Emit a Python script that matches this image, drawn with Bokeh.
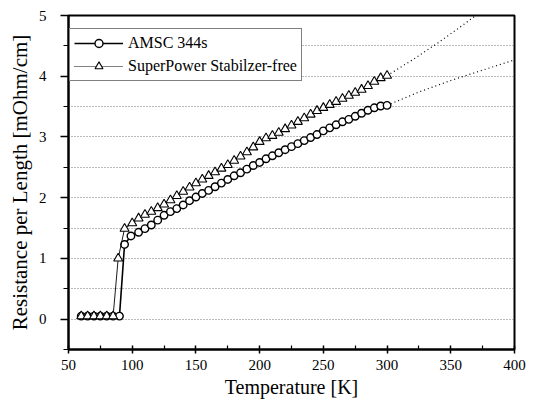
from bokeh.plotting import figure
from bokeh.models import FixedTicker, Range1d, Legend, LegendItem
from bokeh.embed import file_html
from bokeh.resources import INLINE

# ---- data ----
amsc_T = [60, 65, 70, 75, 80, 85, 90, 94, 99,
          105, 110, 115, 120, 125, 130, 135, 140, 145, 150, 155, 160, 165, 170,
          175, 180, 185, 190, 195, 200, 205, 210, 215, 220, 225, 230, 235, 240,
          245, 250, 255, 260, 265, 270, 275, 280, 285, 290, 295, 300]
amsc_R = [0.05, 0.05, 0.05, 0.05, 0.05, 0.05, 0.05, 1.23, 1.37,
          1.43, 1.49, 1.55, 1.63, 1.71, 1.77, 1.82, 1.88, 1.95, 2.01, 2.07, 2.12, 2.18, 2.24,
          2.30, 2.36, 2.41, 2.47, 2.53, 2.58, 2.64, 2.69, 2.74, 2.79, 2.84, 2.89, 2.94, 2.99,
          3.04, 3.10, 3.15, 3.20, 3.25, 3.29, 3.34, 3.39, 3.44, 3.48, 3.51, 3.52]

sp_T = [60, 65, 70, 75, 80, 85, 89, 94,
        100, 105, 110, 115, 120, 125, 130, 135, 140, 145, 150, 155, 160, 165, 170,
        175, 180, 185, 190, 195, 200, 205, 210, 215, 220, 225, 230, 235, 240,
        245, 250, 255, 260, 265, 270, 275, 280, 285, 290, 295, 300]
sp_R = [0.05, 0.05, 0.05, 0.05, 0.05, 0.05, 1.00, 1.49,
        1.58, 1.66, 1.72, 1.77, 1.83, 1.89, 1.96, 2.03, 2.10, 2.17, 2.24, 2.30, 2.36, 2.42, 2.48,
        2.54, 2.61, 2.68, 2.75, 2.83, 2.92, 2.98, 3.02, 3.07, 3.13, 3.19, 3.25, 3.31, 3.37,
        3.43, 3.48, 3.53, 3.58, 3.63, 3.68, 3.73, 3.78, 3.84, 3.91, 3.97, 4.01]

amsc_ext_T = [300, 325, 350, 375, 400]
amsc_ext_R = [3.52, 3.74, 3.93, 4.10, 4.27]
sp_ext_T = [300, 320, 340, 360, 380]
sp_ext_R = [4.01, 4.27, 4.55, 4.85, 5.16]

x_ticks = [50, 100, 150, 200, 250, 300, 350, 400]
x_minor = [75, 125, 175, 225, 275, 325, 375]
y_ticks = [0, 1, 2, 3, 4, 5]
y_minor = [-0.5, 0.5, 1.5, 2.5, 3.5, 4.5]
grid_lines = [0, 0.5, 1, 1.5, 2, 2.5, 3, 3.5, 4, 4.5]

FONT = "Liberation Serif"

p = figure(width=534, height=403, output_backend="svg", toolbar_location=None,
           x_range=Range1d(50, 400), y_range=Range1d(-0.5, 5),
           min_border_left=68, min_border_right=20, min_border_top=15,
           min_border_bottom=54)

p.outline_line_color = "black"
p.outline_line_width = 2
p.background_fill_color = "white"
p.border_fill_color = "white"

p.xgrid.visible = False
p.ygrid.ticker = FixedTicker(ticks=grid_lines)
p.ygrid.grid_line_color = "#777777"
p.ygrid.grid_line_dash = "1 2"
p.ygrid.grid_line_width = 1

p.xaxis.ticker = FixedTicker(ticks=x_ticks, minor_ticks=x_minor)
p.yaxis.ticker = FixedTicker(ticks=y_ticks, minor_ticks=y_minor)

for ax in (p.xaxis, p.yaxis):
    ax.axis_line_width = 2
    ax.axis_line_color = "black"
    ax.major_tick_line_color = "black"
    ax.minor_tick_line_color = "black"
    ax.major_tick_line_width = 1.5
    ax.minor_tick_line_width = 1.2
    ax.major_label_text_font = FONT
    ax.major_label_text_font_size = "15px"
    ax.major_label_text_color = "black"
    ax.axis_label_text_font = FONT
    ax.axis_label_text_font_style = "normal"
    ax.axis_label_text_color = "black"

p.xaxis.axis_label_text_font_size = "20px"
p.yaxis.axis_label_text_font_size = "21px"

p.xaxis.major_tick_in = 4
p.xaxis.major_tick_out = 4
p.xaxis.minor_tick_in = 4
p.xaxis.minor_tick_out = 0
p.yaxis.major_tick_in = 0
p.yaxis.major_tick_out = 8
p.yaxis.minor_tick_in = 0
p.yaxis.minor_tick_out = 5
p.xaxis.major_label_standoff = 6
p.yaxis.major_label_standoff = 14
p.xaxis.axis_label = "Temperature [K]"
p.yaxis.axis_label = "Resistance per Length [mOhm/cm]"
p.xaxis.axis_label_standoff = 3
p.yaxis.axis_label_standoff = 4

# extrapolation lines
p.line(amsc_ext_T, amsc_ext_R, line_color="black", line_width=1.2, line_dash="1 3")
p.line(sp_ext_T, sp_ext_R, line_color="black", line_width=1.2, line_dash="1 3")

# series
l1 = p.line(amsc_T, amsc_R, line_color="black", line_width=1.6)
m1 = p.scatter(amsc_T, amsc_R, marker="circle", size=7.5, fill_color="white",
               line_color="black", line_width=1.4)
l2 = p.line(sp_T, sp_R, line_color="black", line_width=0.9)
m2 = p.scatter(sp_T, sp_R, marker="triangle", size=9, fill_color="white",
               line_color="black", line_width=1.1)

# legend glyph (dotted line for second entry)
lg2 = p.line([None], [None], line_color="black", line_width=1, line_dash="1 1")

legend = Legend(items=[LegendItem(label="AMSC 344s", renderers=[l1, m1]),
                       LegendItem(label="SuperPower Stabilzer-free", renderers=[lg2, m2])],
                location=(1, 268))
legend.label_text_font = FONT
legend.label_text_font_size = "16px"
legend.label_text_color = "black"
legend.border_line_color = "black"
legend.border_line_width = 1.2
legend.background_fill_alpha = 1
legend.glyph_width = 49
legend.glyph_height = 20
legend.label_height = 20
legend.spacing = 3
legend.padding = 4
legend.margin = 0
legend.label_standoff = 5
legend.label_text_baseline = "middle"
p.add_layout(legend, "center")

open("out.html", "w").write(file_html(p, INLINE))
